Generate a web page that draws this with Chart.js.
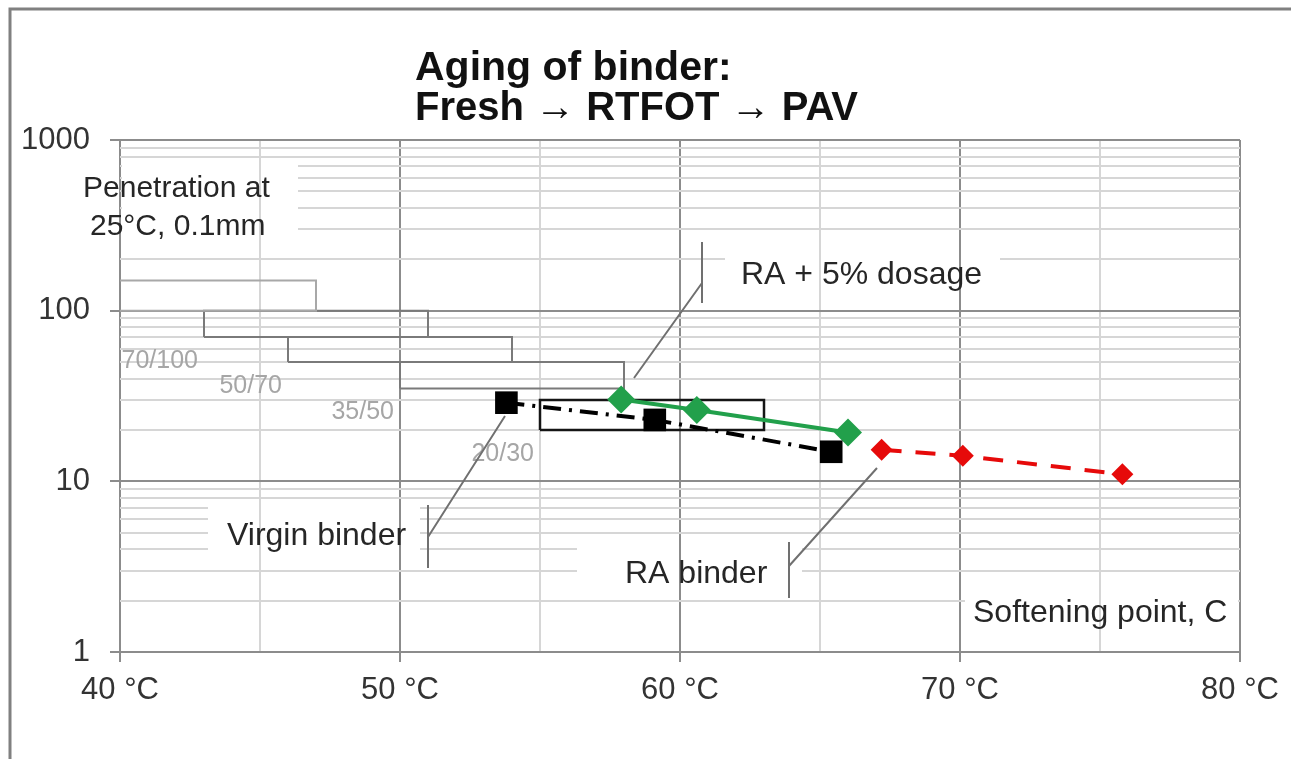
<!DOCTYPE html>
<html>
<head>
<meta charset="utf-8">
<script src="https://cdn.jsdelivr.net/npm/chart.js@4.4.0/dist/chart.umd.min.js"></script>
<style>
  html, body { margin: 0; padding: 0; background: #fff; }
</style>
</head>
<body>
<canvas id="myChart" width="1291" height="759"></canvas>
<script>
// softening point (°C) and penetration at 25°C (0.1 mm)
var virginSP = [53.8, 59.1, 65.4];
var virginPen = [28.9, 22.9, 14.9];
var dosageSP = [57.9, 60.6, 66.0];
var dosagePen = [30.2, 26.2, 19.3];
var raSP = [67.2, 70.1, 75.8];
var raPen = [15.3, 14.1, 11.0];

// penetration grade windows
var gradeNames = ['100/150', '70/100', '50/70', '35/50', '20/30'];
var gradeSpMin = [39, 43, 46, 50, 55];
var gradeSpMax = [47, 51, 54, 58, 63];
var gradePenMin = [100, 70, 50, 35, 20];
var gradePenMax = [150, 100, 70, 50, 30];

// axes
var xTickValues = [40, 45, 50, 55, 60, 65, 70, 75, 80];
var xTickLabels = ['40 °C', '', '50 °C', '', '60 °C', '', '70 °C', '', '80 °C'];
var yMajorValues = [1, 10, 100, 1000];
var yTickLabels = ['1', '10', '100', '1000'];

var FONT = "'Liberation Sans', Arial, sans-serif";
var gradeColors = ['#a8a8a8', '#7a7a7a', '#7a7a7a', '#7a7a7a', '#151515'];
var MAJOR = '#8c8c8c', MINOR = '#d6d6d6';

var yTickValues = [];
yMajorValues.forEach(function(m) {
  if (m === 1000) { yTickValues.push(m); return; }
  for (var k = 1; k < 10; k++) yTickValues.push(m * k);
});

function isMajorX(v) { return v % 10 === 0; }
function isMajorY(v) { return yMajorValues.indexOf(v) >= 0; }

function pts(xs, ys) {
  return xs.map(function(x, i) { return {x: x, y: ys[i]}; });
}
function boxPoints(i) {
  return [
    {x: gradeSpMin[i], y: gradePenMin[i]},
    {x: gradeSpMax[i], y: gradePenMin[i]},
    {x: gradeSpMax[i], y: gradePenMax[i]},
    {x: gradeSpMin[i], y: gradePenMax[i]},
    {x: gradeSpMin[i], y: gradePenMin[i]}
  ];
}

// text notes and leaders (pixel layout)
var notes = [
  {lines: ['Penetration at', '25°C, 0.1mm'], size: 30, x: [83, 90], y: [197, 235], rect: [122, 163, 176, 87]},
  {lines: ['Virgin binder'], size: 32, x: [227], y: [545], rect: [208, 500, 212, 68], bar: [428, 505, 568], lead: [428, 537, 505, 416]},
  {lines: ['RA binder'], size: 32, x: [625], y: [583], rect: [577, 540, 225, 58], bar: [789, 542, 598], lead: [789, 566, 877, 468]},
  {lines: ['RA + 5% dosage'], size: 32, x: [741], y: [284], rect: [725, 250, 275, 55], bar: [702, 242, 303], lead: [702, 283, 634, 378]},
  {lines: ['Softening point, C'], size: 32, x: [973], y: [622], rect: [965, 585, 273, 64]}
];

var datasets = [{
    label: 'Virgin binder',
    data: pts(virginSP, virginPen),
    borderColor: '#000',
    backgroundColor: '#000',
    borderWidth: 4,
    borderDash: [18, 8, 3, 8],
    pointStyle: 'rect',
    pointRadius: 16,
    pointBorderWidth: 0
  }, {
    label: 'RA + 5% dosage',
    data: pts(dosageSP, dosagePen),
    borderColor: '#22a04b',
    backgroundColor: '#22a04b',
    borderWidth: 4,
    pointStyle: 'rectRot',
    pointRadius: 14,
    pointBorderWidth: 0
  }, {
    label: 'RA binder',
    data: pts(raSP, raPen),
    borderColor: '#e60a0a',
    backgroundColor: '#e60a0a',
    borderWidth: 4,
    borderDash: [20, 14],
    pointStyle: 'rectRot',
    pointRadius: 11,
    pointBorderWidth: 0
  }];

gradeNames.forEach(function(name, i) {
  datasets.push({
    label: name,
    data: boxPoints(i),
    borderColor: gradeColors[i],
    borderWidth: i === 4 ? 2.5 : 2,
    borderJoinStyle: 'miter',
    pointRadius: 0,
    fill: false
  });
});

const decorations = {
  id: 'decorations',
  beforeDatasetsDraw(chart) {
    const {ctx, scales: {x}} = chart;
    ctx.save();
    notes.forEach(function(n) {
      var r = n.rect;
      ctx.fillStyle = '#fff';
      ctx.fillRect(r[0], r[1], r[2], r[3]);
      // vertical grid stays visible through the boxes
      xTickValues.forEach(function(v) {
        var px = x.getPixelForValue(v);
        if (px < r[0] || px > r[0] + r[2]) return;
        ctx.strokeStyle = isMajorX(v) ? MAJOR : MINOR;
        ctx.lineWidth = 2;
        ctx.beginPath();
        ctx.moveTo(px, r[1]);
        ctx.lineTo(px, r[1] + r[3]);
        ctx.stroke();
      });
    });
    ctx.restore();
  },
  afterDatasetsDraw(chart) {
    const {ctx, chartArea: a, scales: {x, y}} = chart;
    ctx.save();
    ctx.beginPath();
    ctx.rect(a.left, a.top, a.right - a.left, a.bottom - a.top);
    ctx.clip();
    ctx.font = '25px ' + FONT;
    ctx.fillStyle = '#a6a6a6';
    ctx.textAlign = 'right';
    ctx.textBaseline = 'middle';
    gradeNames.forEach(function(name, i) {
      ctx.fillText(name, x.getPixelForValue(gradeSpMin[i]) - 6, y.getPixelForValue(gradePenMin[i]) + 24);
    });
    ctx.restore();
  },
  afterDraw(chart) {
    const {ctx} = chart;
    ctx.save();
    // frame
    ctx.strokeStyle = '#808080';
    ctx.lineWidth = 3;
    ctx.beginPath();
    ctx.moveTo(10, 759);
    ctx.lineTo(10, 9);
    ctx.lineTo(1291, 9);
    ctx.stroke();
    // title
    ctx.fillStyle = '#111';
    ctx.textAlign = 'left';
    ctx.textBaseline = 'alphabetic';
    ctx.font = 'bold 41px ' + FONT;
    ctx.fillText('Aging of binder:', 415, 80);
    ctx.font = 'bold 40px ' + FONT;
    ctx.fillText('Fresh \u2192 RTFOT \u2192 PAV', 415, 120);
    // notes
    notes.forEach(function(n) {
      ctx.font = n.size + 'px ' + FONT;
      ctx.fillStyle = '#262626';
      n.lines.forEach(function(t, k) { ctx.fillText(t, n.x[k], n.y[k]); });
      ctx.strokeStyle = '#707070';
      ctx.lineWidth = 2;
      if (n.bar) {
        ctx.beginPath();
        ctx.moveTo(n.bar[0], n.bar[1]);
        ctx.lineTo(n.bar[0], n.bar[2]);
        ctx.moveTo(n.lead[0], n.lead[1]);
        ctx.lineTo(n.lead[2], n.lead[3]);
        ctx.stroke();
      }
    });
    ctx.restore();
  }
};

var chart = new Chart(document.getElementById('myChart'), {
  type: 'line',
  data: {datasets: datasets},
  options: {
    responsive: false,
    animation: false,
    devicePixelRatio: 1,
    events: [],
    layout: {padding: {left: 0, top: 140, right: 51, bottom: 0}},
    plugins: {legend: {display: false}, tooltip: {enabled: false}},
    elements: {line: {tension: 0}},
    scales: {
      x: {
        type: 'linear',
        min: 40,
        max: 80,
        afterBuildTicks: function(s) { s.ticks = xTickValues.map(function(v) { return {value: v}; }); },
        afterFit: function(s) { s.height = 107; },
        border: {display: false},
        grid: {
          color: function(c) { return isMajorX(c.tick.value) ? MAJOR : MINOR; },
          lineWidth: 2,
          tickLength: 10,
          tickWidth: 2,
          tickColor: function(c) { return isMajorX(c.tick.value) ? MAJOR : 'rgba(0,0,0,0)'; }
        },
        ticks: {
          autoSkip: false,
          maxRotation: 0,
          padding: 10,
          color: '#333',
          font: {family: FONT, size: 31},
          callback: function(v) { var i = xTickValues.indexOf(v); return i >= 0 ? xTickLabels[i] : ''; }
        }
      },
      y: {
        type: 'logarithmic',
        min: 1,
        max: 1000,
        afterBuildTicks: function(s) { s.ticks = yTickValues.map(function(v) { return {value: v}; }); },
        afterFit: function(s) { s.width = 120; },
        border: {display: false},
        grid: {
          color: function(c) { return isMajorY(c.tick.value) ? MAJOR : MINOR; },
          lineWidth: 2,
          tickLength: 10,
          tickWidth: 2,
          tickColor: function(c) { return isMajorY(c.tick.value) ? MAJOR : 'rgba(0,0,0,0)'; }
        },
        ticks: {
          autoSkip: false,
          padding: 20,
          color: '#333',
          font: {family: FONT, size: 31},
          callback: function(v) { var i = yMajorValues.indexOf(v); return i >= 0 ? yTickLabels[i] : ''; }
        }
      }
    }
  },
  plugins: [decorations]
});
</script>
</body>
</html>
